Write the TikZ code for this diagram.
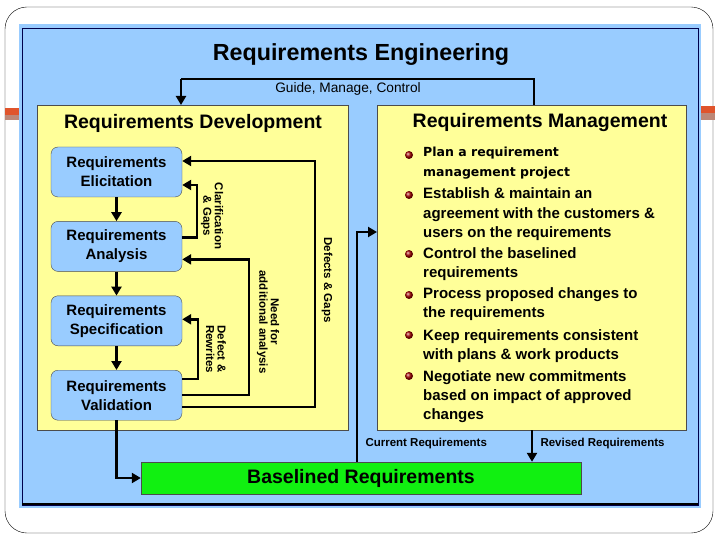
\documentclass[tikz,border=0pt]{standalone}
\usepackage{fontspec}
\setmainfont{Liberation Sans}
\newfontfamily\widefont{DejaVu Sans}
\usetikzlibrary{
  arrows.meta,
  chains,
  positioning,
  scopes
}
\definecolor{panelblue}{HTML}{99CCFF}
\definecolor{noteyellow}{HTML}{FFFF99}
\definecolor{basegreen}{HTML}{11F011}
\definecolor{slideorange}{HTML}{E0542C}

\begin{document}
\begin{tikzpicture}[x=1pt,y=-1pt,
      process/.style={
         rectangle,
         rounded corners=7pt,
         minimum width=131pt,
         minimum height=50pt,
         draw=black!70,
         fill=panelblue,
         align=center,
         font=\fontsize{15}{19}\selectfont\bfseries
      },
      area/.style={
         rectangle,
         anchor=north west,
         minimum height=325pt,
         draw=black!70,
         fill=noteyellow
      },
      heading/.style={font=\fontsize{19.5}{22}\selectfont\bfseries},
      flowlabel/.style={align=center,font=\fontsize{11.5}{11.5}\selectfont\bfseries},
      item/.style={anchor=base west,align=left,inner sep=0pt,
         font=\fontsize{15}{19.3}\selectfont\bfseries},
      bullet/.style={circle,inner sep=0pt,minimum size=8pt,ball color=red!65!black},
      >={Triangle[length=9pt,width=10pt]},
      tip/.style={->,line width=2.4pt},
      line/.style={line width=2.4pt},
      hv path/.style={to path={-| (\tikztotarget)}},
      vh path/.style={to path={|- (\tikztotarget)}}
    ]
    \useasboundingbox (0,0) rectangle (720,540);
    \fill[white] (0,0) rectangle (720,540);
    \draw[black, thin, rounded corners=22pt] (5,7) rectangle (713,533);
    \fill[slideorange] (5,108) rectangle (19,115);
    \fill[black!35!slideorange!60] (5,115) rectangle (19,120);
    \fill[slideorange] (701,106) rectangle (715,113);
    \fill[black!35!slideorange!60] (701,113) rectangle (715,120);
    % the outer panel
    \fill[panelblue] (19,24) rectangle (701,508);
    \draw[blue!30!black, thin] (22,28) rectangle (698,505);
    \draw[black, line width=2.5pt] (22,504) -- (698,504);
    \node (title) at (361,55) [font=\fontsize{23.3}{25}\selectfont\bfseries] {Requirements Engineering};

    \node (dev) at (37,105) [area, minimum width=311pt] {};
    \node (mgmt) at (377,105) [area, minimum width=309pt] {};
    \node (devtitle) at (193,123) [heading] {Requirements Development};
    \node (mgmttitle) at (540,123) [heading] {Requirements Management};

    \node (n1) at (116.5,172) [process] {Requirements\\Elicitation};
    \node (n2) [process, below=24pt of n1] {Requirements\\Analysis};
    \node (n3) [process, below=24pt of n2] {Requirements\\Specification};
    \node (n4) [process, below=24pt of n3] {Requirements\\Validation};

    \node (base) at (361,478) [rectangle, draw=black!70, fill=basegreen,
       minimum width=440pt, minimum height=32pt,
       font=\fontsize{19.5}{21}\selectfont\bfseries] {Baselined Requirements};

  { [start chain]
       \chainin (n1);
       \chainin (n2)    [join=by tip];
       \chainin (n3)    [join=by tip];
       \chainin (n4)    [join=by tip];
  }
    \draw[tip] ([yshift=9pt]n2.east) -- ++(15,0) |- ([yshift=-13pt]n1.east);
    \draw[tip] ([yshift=16.5pt]n4.east) -- ++(16,0) |- ([yshift=1.5pt]n3.east);
    \draw[tip] (n4.east) -- ++(67,0) |- ([yshift=-13pt]n2.east);
    \draw[tip] ([yshift=-11.5pt]n4.east) -- ++(133,0) |- ([yshift=11pt]n1.east);
    \draw[tip] (n4.south) to [vh path] (base.west);

    \node (l1) at (212,216) [flowlabel, rotate=-90] {Clarification\\\& Gaps};
    \node (l2) at (216,349) [flowlabel, rotate=-90] {Defect \&\\Rewrites};
    \node (l3) at (268,322) [flowlabel, rotate=-90] {Need for\\additional analysis};
    \node (l4) at (327,280) [flowlabel, rotate=-90] {Defects \& Gaps};

    \coordinate (guide) at (181,79);
    \coordinate (cur) at (357,232);
    \coordinate (rev) at (532,0);
    \draw[line] (mgmt.north -| 534,0) |- (guide);
    \draw[tip] (guide) -- (dev.north -| guide);
    \node (l5) at (348,89) [font=\fontsize{13.7}{15}\selectfont] {Guide, Manage, Control};
    \draw[tip] (base.north -| cur) -- (cur) -- (cur -| mgmt.west);
    \draw[tip] (mgmt.south -| rev) -- (base.north -| rev);
    \node (l6) at (362,444) [flowlabel, anchor=west] {Current Requirements};
    \node (l7) at (537,444) [flowlabel, anchor=west] {Revised Requirements};

    \node (d1) at (409,155) [bullet] {};
    \node (d2) at (409,195) [bullet] {};
    \node (d3) at (409,254) [bullet] {};
    \node (d4) at (409,295) [bullet] {};
    \node (d5) at (409,335) [bullet] {};
    \node (d6) at (409,376) [bullet] {};
    % base anchor sits on the last line
    \node (b1) at (423,177) [item, font=\widefont\fontsize{12.5}{20}\selectfont\bfseries]
       {Plan a requirement\\management project};
    \node (b2) at (423,237.6) [item] {Establish \& maintain an\\agreement with the customers \&\\users on the requirements};
    \node (b3) at (423,277.3) [item] {Control the baselined\\requirements};
    \node (b4) at (423,317.3) [item] {Process proposed changes to\\the requirements};
    \node (b5) at (423,359.3) [item] {Keep requirements consistent\\with plans \& work products};
    \node (b6) at (423,419.6) [item] {Negotiate new commitments\\based on impact of approved\\changes};
\end{tikzpicture}
\end{document}
